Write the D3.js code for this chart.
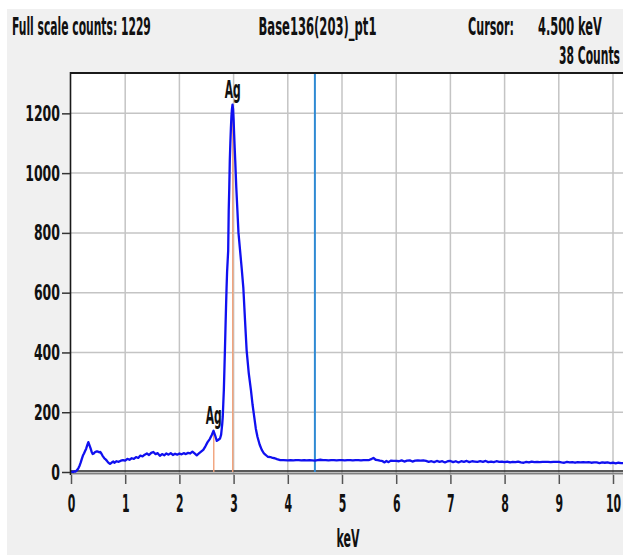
<!DOCTYPE html>
<html><head><meta charset="utf-8">
<script src="https://cdn.jsdelivr.net/npm/d3@7/dist/d3.min.js"></script>
<style>
body{margin:0;background:#fff}
svg{display:block}
text{font-family:"Liberation Sans Narrow","DejaVu Sans Condensed","Liberation Sans",sans-serif;fill:#111;font-weight:bold}
</style>
</head><body>
<svg id="chart" width="623" height="555"></svg>
<script>
// ---------- data ----------
const xTicks = [0,1,2,3,4,5,6,7,8,9,10];
const yTicks = [0,200,400,600,800,1000,1200];
const xLabel = "keV";
const headerLeft = "Full scale counts: 1229";
const headerTitle = "Base136(203)_pt1";
const cursorLabel = "Cursor:";
const cursorKeVText = "4.500 keV";
const cursorCountsText = "38 Counts";
const cursorKeV = 4.5;
const markerLabels = ["Ag","Ag"];
const markerKeV = [2.634, 2.984];
const markerCounts = [138, 1229];

// spectrum: [keV, counts]
const spectrumLow = [
 [0.00,0],[0.02,1],[0.04,0],[0.06,2],[0.08,1],[0.10,4],[0.12,8],[0.14,14],[0.16,22],[0.18,32],
 [0.20,44],[0.22,55],[0.24,62],[0.26,70],[0.28,78],[0.30,90],[0.32,100],[0.34,90],[0.36,80],[0.38,68],
 [0.40,60],[0.42,62],[0.44,66],[0.46,68],[0.48,69],[0.50,68],[0.52,66],[0.54,67],[0.56,62],[0.58,55],
 [0.60,50],[0.62,45],[0.64,42],[0.66,38],[0.68,33],[0.70,30],[0.72,27],[0.74,30],[0.76,33],[0.78,35],
 [0.80,31],[0.84,36],[0.88,34],[0.92,38],[0.96,40],[1.00,38],[1.04,44],[1.08,41],[1.12,46],[1.16,44],
 [1.20,50],[1.24,47],[1.28,55],[1.32,52],[1.36,58],[1.40,62],[1.44,57],[1.48,64],[1.52,67],[1.56,60],
 [1.60,63],[1.64,54],[1.68,60],[1.72,56],[1.76,62],[1.80,58],[1.84,63],[1.88,57],[1.92,61],[1.96,58],
 [2.00,62],[2.04,59],[2.08,63],[2.12,60],[2.16,64],[2.20,62],[2.24,68],[2.28,62],[2.32,56],[2.36,62],
 [2.40,68],[2.44,74],[2.48,86],[2.52,100],[2.56,110],[2.60,125],[2.63,138],[2.66,122],[2.69,104],[2.72,108]
];
const spectrumPeak = [
 [2.75,112],[2.77,125],[2.79,160],[2.80,185],[2.81,230],[2.82,274],[2.83,340],[2.84,408],[2.85,480],
 [2.86,550],[2.87,615],[2.88,670],[2.89,705],[2.90,740],[2.91,876],[2.92,950],[2.93,1043],[2.94,1100],
 [2.95,1150],[2.96,1190],[2.97,1215],[2.98,1229],[2.99,1215],[3.00,1180],[3.01,1130],[3.02,1085],
 [3.03,1043],[3.05,950],[3.07,876],[3.09,800],[3.12,740],[3.15,680],[3.18,615],[3.21,510],[3.24,408],
 [3.28,330],[3.32,274],[3.35,225],[3.38,185],[3.41,145],[3.44,118],[3.48,92],[3.52,74],[3.56,62],
 [3.60,56],[3.63,51],[3.68,50],[3.72,47],[3.76,46],[3.80,43],[3.86,40],[3.92,40],[4.00,39]
];
const spectrumTail = [
 [4.05,40],[4.10,39],[4.15,40],[4.20,40],[4.25,39],[4.30,40],[4.35,39],[4.40,40],[4.45,39],[4.50,38],
 [4.55,40],[4.60,41],[4.65,40],[4.70,40],[4.75,39],[4.80,40],[4.85,40],[4.90,39],[4.95,40],[5.00,40],
 [5.05,39],[5.10,40],[5.15,40],[5.20,39],[5.25,40],[5.30,40],[5.35,39],[5.40,40],[5.45,40],[5.50,40],
 [5.55,44],[5.58,47],[5.62,41],[5.66,40],[5.70,38],[5.75,36],[5.78,32],[5.82,37],[5.86,33],[5.90,38],
 [5.95,37],[6.00,37],[6.05,36],[6.10,39],[6.15,35],[6.20,38],[6.25,39],[6.30,35],[6.35,38],[6.40,39],
 [6.45,38],[6.50,39],[6.55,37],[6.60,34],[6.65,36],[6.70,33],[6.75,37],[6.80,34],[6.85,36],[6.90,32],
 [6.95,36],[7.00,37],[7.05,33],[7.10,36],[7.15,32],[7.20,36],[7.25,34],[7.30,37],[7.35,33],[7.40,36],
 [7.45,35],[7.50,34],[7.55,36],[7.60,34],[7.65,37],[7.70,33],[7.75,35],[7.80,33],[7.85,36],[7.90,34],
 [7.95,35],[8.00,33],[8.05,35],[8.10,32],[8.15,34],[8.20,33],[8.25,35],[8.30,32],[8.35,31],[8.40,34],
 [8.45,32],[8.50,35],[8.55,33],[8.60,34],[8.65,33],[8.70,34],[8.75,34],[8.80,34],[8.85,33],[8.90,34],
 [8.95,34],[9.00,34],[9.05,32],[9.10,31],[9.15,34],[9.20,32],[9.25,33],[9.30,31],[9.35,33],[9.40,32],
 [9.45,33],[9.50,32],[9.55,33],[9.60,31],[9.65,32],[9.70,32],[9.75,30],[9.80,32],[9.85,31],[9.90,32],
 [9.95,30],[10.00,31],[10.05,29],[10.10,31],[10.15,30],[10.20,30]
];
const spectrum = spectrumLow.concat(spectrumPeak, spectrumTail);

// ---------- helpers ----------
// squeeze a text horizontally (around its anchor x) so its width equals w
function fit(node, w){
  const nat = node.getComputedTextLength();
  if(!nat) return;
  const s = w / nat;
  const ax = +node.getAttribute("x") || 0;
  node.setAttribute("transform", `translate(${ax},0) scale(${s},1) translate(${-ax},0)`);
}

// ---------- layout ----------
const svg = d3.select("#chart");
const plotLeft = 71, plotTop = 73, plotBottom = 475, plotRight = 640;
const x = d3.scaleLinear().domain([0,10]).range([71,613]);
const y = d3.scaleLinear().domain([0,1335]).range([472,73]);

svg.append("rect").attr("x",7).attr("y",9).attr("width",616).attr("height",546).attr("fill","#f0f0f0");
svg.append("rect").attr("x",plotLeft).attr("y",plotTop).attr("width",plotRight-plotLeft).attr("height",plotBottom-plotTop).attr("fill","#fff");

// grid
const grid = svg.append("g").attr("stroke","#c4c4c4").attr("stroke-width",1.5);
grid.selectAll(".vg").data(xTicks.filter(d=>d>0)).join("line")
  .attr("x1",d=>x(d)).attr("x2",d=>x(d)).attr("y1",plotTop).attr("y2",plotBottom);
grid.selectAll(".hg").data(yTicks.filter(d=>d>0)).join("line")
  .attr("x1",plotLeft).attr("x2",plotRight).attr("y1",d=>y(d)).attr("y2",d=>y(d));

// baseline (zero line)
svg.append("line").attr("x1",plotLeft).attr("x2",plotRight).attr("y1",y(0)-1).attr("y2",y(0)-1).attr("stroke","#222").attr("stroke-width",1.6);
svg.append("line").attr("x1",plotLeft).attr("x2",plotRight).attr("y1",y(0)+1.5).attr("y2",y(0)+1.5).attr("stroke","#808080").attr("stroke-width",2);

// marker lines
markerKeV.forEach((k,i)=>{
  svg.append("line").attr("x1",x(k)).attr("x2",x(k)).attr("y1",y(0)).attr("y2",y(markerCounts[i])+2)
    .attr("stroke","#f2a27a").attr("stroke-width",1.4);
});

// cursor
svg.append("line").attr("x1",x(cursorKeV)).attr("x2",x(cursorKeV)).attr("y1",plotTop).attr("y2",y(0))
  .attr("stroke","#2f8ad3").attr("stroke-width",2);

// spectrum
svg.append("clipPath").attr("id","clip").append("rect").attr("x",plotLeft).attr("y",plotTop).attr("width",plotRight-plotLeft).attr("height",plotBottom-plotTop);
svg.append("path").datum(spectrum).attr("clip-path","url(#clip)")
  .attr("fill","none").attr("stroke","#1010f0").attr("stroke-width",2.3).attr("stroke-linejoin","round")
  .attr("d", d3.line().x(d=>x(d[0])).y(d=>y(d[1])));

// frame
svg.append("line").attr("x1",70).attr("x2",623).attr("y1",73).attr("y2",73).attr("stroke","#1a1a1a").attr("stroke-width",2);
svg.append("line").attr("x1",70.5).attr("x2",70.5).attr("y1",72).attr("y2",plotBottom).attr("stroke","#1a1a1a").attr("stroke-width",1.6);

// marker labels
markerKeV.forEach((k,i)=>{
  const t = svg.append("text").attr("x",x(k)).attr("y",y(markerCounts[i])-7).attr("text-anchor","middle")
    .attr("font-size",24).text(markerLabels[i]);
  fit(t.node(),16);
});

// axes
const xAxis = svg.append("g").attr("transform",`translate(0,${plotBottom})`)
  .call(d3.axisBottom(x).tickValues(xTicks).tickSize(9).tickPadding(10).tickFormat(d3.format("d")));
xAxis.select(".domain").remove();
xAxis.selectAll(".tick line").attr("stroke","#555").attr("stroke-width",1.5);
xAxis.selectAll(".tick text").attr("font-size",25).attr("fill","#111")
  .each(function(d){ fit(this, String(d).length*7.6); });

const yAxis = svg.append("g").attr("transform",`translate(70,0)`)
  .call(d3.axisLeft(y).tickValues(yTicks).tickSize(8).tickPadding(2).tickFormat(d3.format("d")));
yAxis.select(".domain").remove();
yAxis.selectAll(".tick line").attr("stroke","#333").attr("stroke-width",1.5);
yAxis.selectAll(".tick text").attr("font-size",22).attr("fill","#111")
  .each(function(d){ fit(this, String(d).length*8.7); });

const xl = svg.append("text").attr("x",348).attr("y",547).attr("text-anchor","middle").attr("font-size",24).text(xLabel);
fit(xl.node(),23);

// header
function hdr(t,x0,yb,w){
  const n = svg.append("text").attr("x",x0).attr("y",yb).attr("font-size",25).text(t);
  fit(n.node(),w);
}
hdr(headerLeft,12,35,139);
hdr(headerTitle,258.5,35,118);
hdr(cursorLabel,468,35,46);
hdr(cursorKeVText,538,35,64);
hdr(cursorCountsText,559,64,61);
</script>
</body></html>
